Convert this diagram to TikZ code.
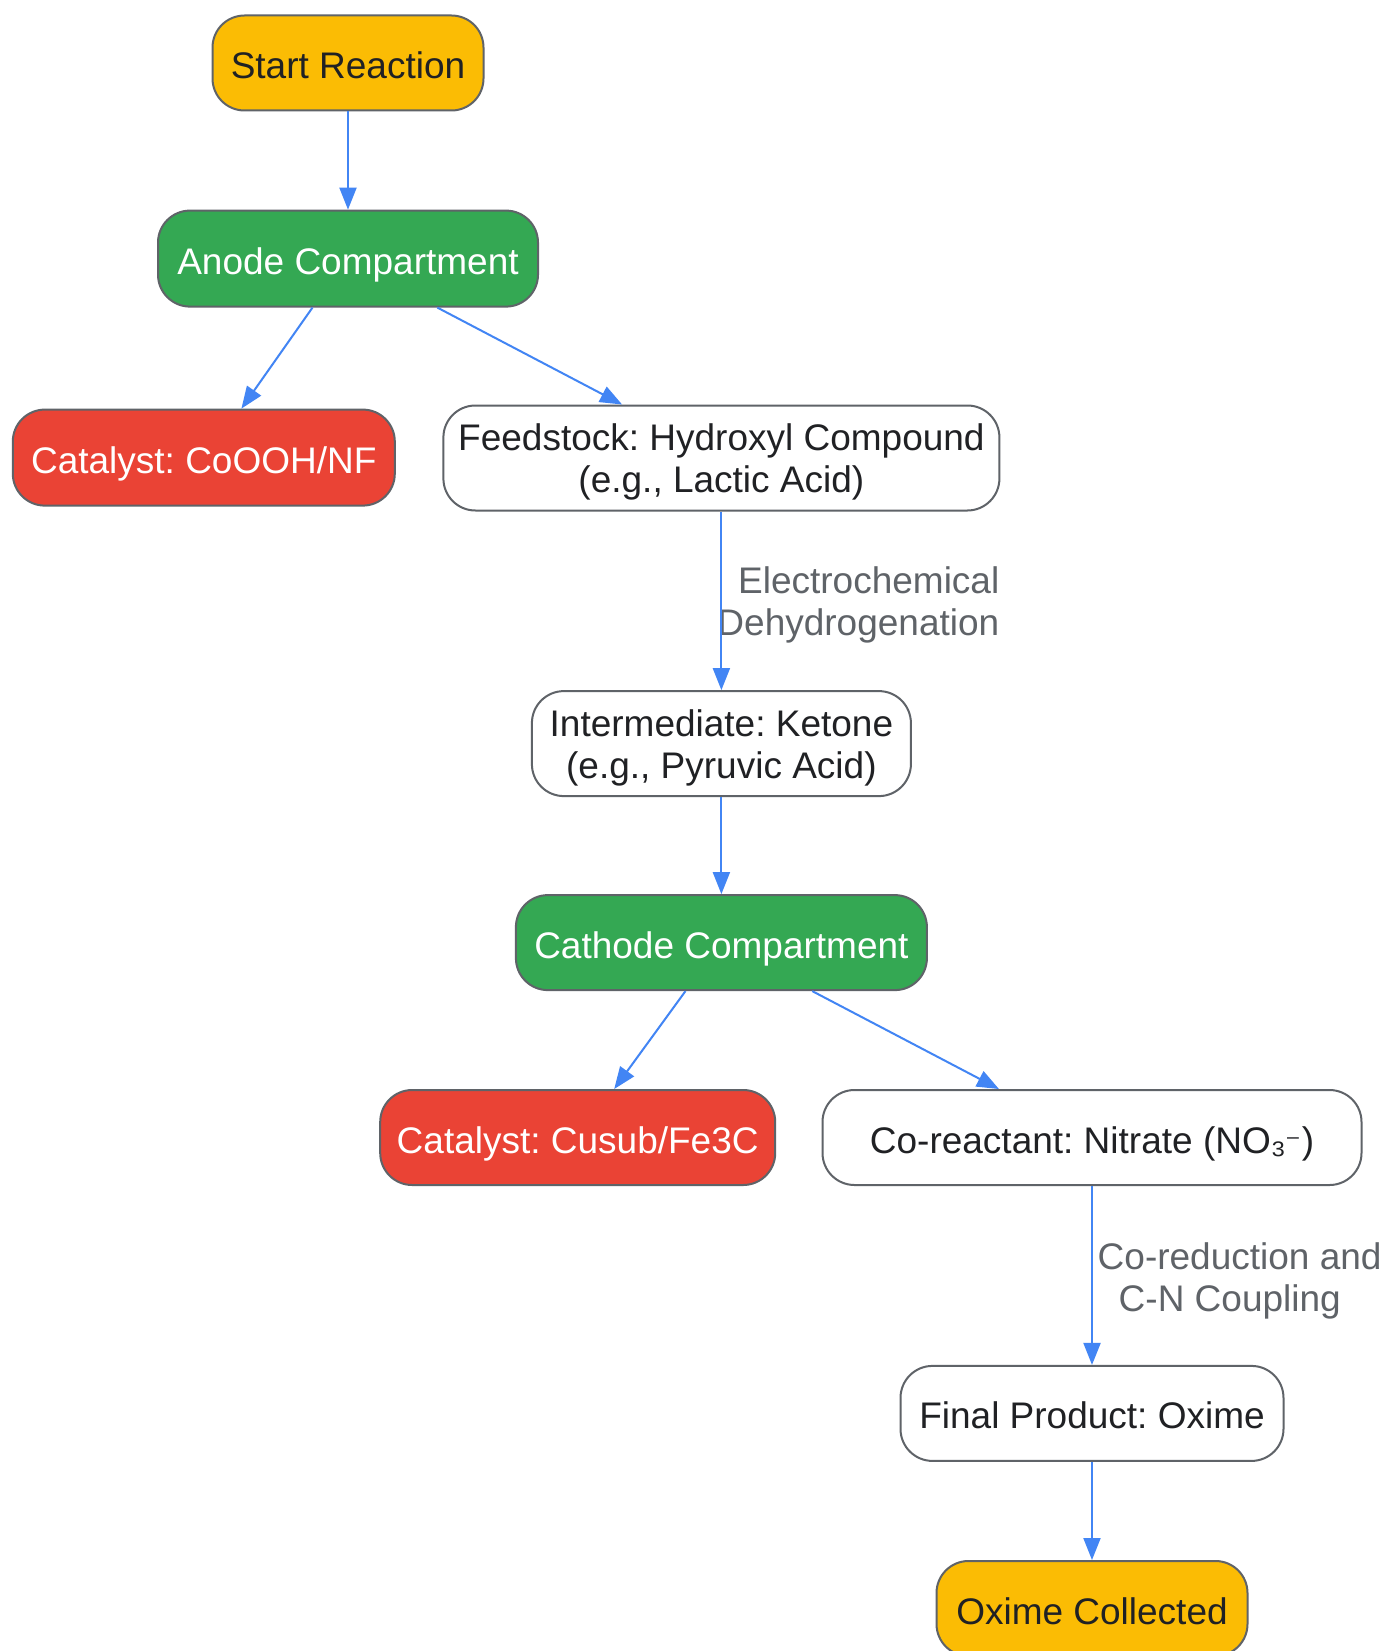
\documentclass[tikz,border=0pt]{standalone}
\usepackage{fontspec}
\setmainfont{Liberation Sans}
\newfontfamily\dvsans{DejaVu Sans}
\frenchspacing
\usetikzlibrary{arrows.meta,calc}
\definecolor{gyellow}{HTML}{FBBC04}
\definecolor{ggreen}{HTML}{34A853}
\definecolor{gred}{HTML}{EA4335}
\definecolor{gborder}{HTML}{5F6368}
\definecolor{gblue}{HTML}{4285F4}
\definecolor{gtext}{HTML}{202124}
\definecolor{glabel}{HTML}{5F6368}
\begin{document}
\frenchspacing
\begin{tikzpicture}[x=1pt,y=-1pt,
  box/.style={draw=gborder, line width=2pt, rounded corners=32pt, inner sep=0pt,
    align=center, font=\fontsize{37}{42}\selectfont\frenchspacing, text=gtext},
  one/.style={text height=31pt, text depth=0pt},
  two/.style={text depth=0pt},
  yel/.style={box, one, fill=gyellow},
  grn/.style={box, one, fill=ggreen, text=white},
  rd/.style={box, one, fill=gred, text=white},
  wht/.style={box, fill=white},
  conn/.style={draw=gblue, line width=2pt, -{Triangle[length=22pt,width=17pt]}},
  elabel/.style={text=glabel, font=\fontsize{37}{42}\selectfont, inner sep=0pt}
]
\path[use as bounding box, fill=white] (0,0) rectangle (1386,1651);

\node[yel, minimum width=271pt, minimum height=95pt] (start) at (348,63) {Start Reaction};
\node[grn, minimum width=380pt, minimum height=96pt] (anode) at (348,258.6) {Anode Compartment};
\node[rd, minimum width=382pt, minimum height=96pt] (cat1) at (203.8,457.6) {Catalyst: CoOOH/NF};
\node[wht, two, minimum width=556pt, minimum height=105pt] (feed) at (721.4,458) {Feedstock: Hydroxyl Compound\\(e.g., Lactic Acid)};
\node[wht, two, minimum width=379pt, minimum height=105pt] (inter) at (721.4,743.6) {Intermediate: Ketone\\(e.g., Pyruvic Acid)};
\node[grn, minimum width=411pt, minimum height=95pt] (cath) at (721.4,942.6) {Cathode Compartment};
\node[rd, minimum width=395pt, minimum height=95pt] (cat2) at (577.7,1137.5) {Catalyst: Cusub/Fe3C};
\node[wht, one, minimum width=539pt, minimum height=95pt] (coreact) at (1092,1137.5) {Co-reactant: Nitrate (NO₃{\dvsans\fontsize{30}{36}\selectfont ⁻})};
\node[wht, one, minimum width=383pt, minimum height=95pt] (final) at (1092,1413.4) {Final Product: Oxime};
\node[yel, minimum width=311pt, minimum height=95pt] (oxime) at (1092,1608.5) {Oxime Collected};

\node[elabel, anchor=east, align=right] (l1) at (999.5,605) {Electrochemical\\Dehydrogenation};
\node[elabel, anchor=west, align=left] (l2) at (1097.5,1281) {Co-reduction and\\\hspace*{21pt}C-N Coupling};

\draw[conn] (start) -- (anode);
\draw[conn] ($(anode.south west)!0.407!(anode.south east)$) -- ($(cat1.north west)!0.598!(cat1.north east)$);
\draw[conn] ($(anode.south west)!0.734!(anode.south east)$) -- ($(feed.north west)!0.322!(feed.north east)$);
\draw[conn] (feed) -- (inter);
\draw[conn] (inter) -- (cath);
\draw[conn] ($(cath.south west)!0.413!(cath.south east)$) -- ($(cat2.north west)!0.592!(cat2.north east)$);
\draw[conn] ($(cath.south west)!0.72!(cath.south east)$) -- ($(coreact.north west)!0.328!(coreact.north east)$);
\draw[conn] (coreact) -- (final);
\draw[conn] (final) -- (oxime);
\end{tikzpicture}
\end{document}
